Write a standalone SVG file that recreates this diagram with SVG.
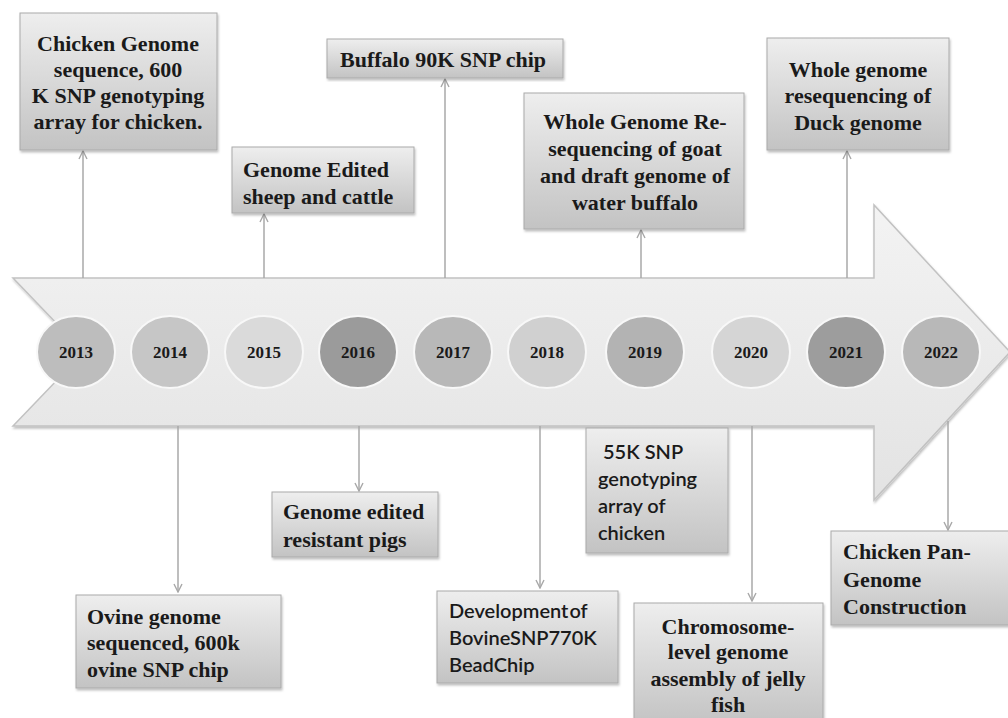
<svg xmlns="http://www.w3.org/2000/svg" width="1008" height="718" viewBox="0 0 1008 718">
<defs>
<linearGradient id="boxg" x1="0" y1="0" x2="0" y2="1">
<stop offset="0" stop-color="#eeeeee"/>
<stop offset="1" stop-color="#c3c3c3"/>
</linearGradient>
<linearGradient id="arrg" x1="0" y1="0" x2="0" y2="1">
<stop offset="0" stop-color="#f3f3f3"/>
<stop offset="1" stop-color="#e3e3e3"/>
</linearGradient>
<filter id="sh" x="-5%" y="-5%" width="112%" height="115%">
<feDropShadow dx="1" dy="2" stdDeviation="1.2" flood-color="#000" flood-opacity="0.25"/>
</filter>
<marker id="ah" viewBox="0 0 10 10" refX="9" refY="5" markerWidth="10" markerHeight="10" markerUnits="userSpaceOnUse" orient="auto">
<path d="M1,1 L9,5 L1,9" fill="none" stroke="#a8a8a8" stroke-width="1.4"/>
</marker>
<style>
.box{fill:url(#boxg);stroke:#aaaaaa;stroke-width:1;filter:url(#sh)}
.t{font-family:"Liberation Serif","Times New Roman",serif;font-weight:bold;font-size:22px;fill:#1a1a1a}
.s{font-family:Lato,"Open Sans",sans-serif;font-weight:600;font-size:20px;fill:#1a1a1a}
.c{text-anchor:middle}
.yr{font-family:"Liberation Serif","Times New Roman",serif;font-weight:bold;font-size:17px;fill:#1a1a1a;text-anchor:middle}
.yc{stroke:#f8f8f8;stroke-width:2}
.ln{stroke:#a8a8a8;stroke-width:1.5;fill:none;marker-end:url(#ah)}
</style>
</defs>
<rect width="1008" height="718" fill="#ffffff"/>

<g id="timeline-arrow">
<path d="M13,278 L874,278 L874,205 L1010,352 L874,500 L874,426 L13,426 L84,352 Z" fill="url(#arrg)" stroke="#c2c2c2" stroke-width="1.5" filter="url(#sh)"/>
</g>

<g id="connectors">
<line class="ln" x1="83" y1="278" x2="83" y2="151"/>
<line class="ln" x1="264" y1="278" x2="264" y2="214"/>
<line class="ln" x1="445" y1="278" x2="445" y2="79"/>
<line class="ln" x1="641" y1="278" x2="641" y2="230"/>
<line class="ln" x1="847" y1="278" x2="847" y2="151"/>
<line class="ln" x1="178" y1="426" x2="178" y2="592"/>
<line class="ln" x1="359" y1="426" x2="359" y2="491"/>
<line class="ln" x1="540" y1="426" x2="540" y2="588"/>
<line class="ln" x1="752" y1="426" x2="752" y2="601"/>
<line class="ln" x1="948" y1="421" x2="948" y2="530"/>
</g>

<g id="y2013"><ellipse class="yc" cx="76" cy="352" rx="39" ry="36" fill="#bdbdbd"/><text class="yr" x="76" y="358">2013</text></g>
<g id="y2014"><ellipse class="yc" cx="170" cy="352" rx="39" ry="36" fill="#c6c6c6"/><text class="yr" x="170" y="358">2014</text></g>
<g id="y2015"><ellipse class="yc" cx="264" cy="352" rx="39" ry="36" fill="#dadada"/><text class="yr" x="264" y="358">2015</text></g>
<g id="y2016"><ellipse class="yc" cx="358" cy="352" rx="39" ry="36" fill="#9b9b9b"/><text class="yr" x="358" y="358">2016</text></g>
<g id="y2017"><ellipse class="yc" cx="453" cy="352" rx="39" ry="36" fill="#b8b8b8"/><text class="yr" x="453" y="358">2017</text></g>
<g id="y2018"><ellipse class="yc" cx="547" cy="352" rx="39" ry="36" fill="#d0d0d0"/><text class="yr" x="547" y="358">2018</text></g>
<g id="y2019"><ellipse class="yc" cx="645" cy="352" rx="39" ry="36" fill="#b3b3b3"/><text class="yr" x="645" y="358">2019</text></g>
<g id="y2020"><ellipse class="yc" cx="751" cy="352" rx="39" ry="36" fill="#d5d5d5"/><text class="yr" x="751" y="358">2020</text></g>
<g id="y2021"><ellipse class="yc" cx="846" cy="352" rx="39" ry="36" fill="#9d9d9d"/><text class="yr" x="846" y="358">2021</text></g>
<g id="y2022"><ellipse class="yc" cx="941" cy="352" rx="39" ry="36" fill="#b8b8b8"/><text class="yr" x="941" y="358">2022</text></g>

<g id="n-chicken-genome">
<rect class="box" x="20" y="13" width="197" height="137"/>
<text class="t c" x="118" y="51">Chicken Genome</text>
<text class="t c" x="118" y="77">sequence, 600</text>
<text class="t c" x="118" y="103">K SNP genotyping</text>
<text class="t c" x="118" y="129">array for chicken.</text>
</g>

<g id="n-genome-edited">
<rect class="box" x="232" y="147" width="182" height="66"/>
<text class="t" x="243" y="177">Genome Edited</text>
<text class="t" x="243" y="204">sheep and cattle</text>
</g>

<g id="n-buffalo">
<rect class="box" x="327" y="39" width="236" height="39"/>
<text class="t c" x="443" y="67">Buffalo 90K SNP chip</text>
</g>

<g id="n-goat">
<rect class="box" x="524" y="93" width="220" height="136"/>
<text class="t c" x="635" y="129">Whole Genome Re-</text>
<text class="t c" x="635" y="156">sequencing of goat</text>
<text class="t c" x="635" y="183">and draft genome of</text>
<text class="t c" x="635" y="210">water buffalo</text>
</g>

<g id="n-duck">
<rect class="box" x="767" y="38" width="182" height="112"/>
<text class="t c" x="858" y="77">Whole genome</text>
<text class="t c" x="858" y="103">resequencing of</text>
<text class="t c" x="858" y="130">Duck genome</text>
</g>

<g id="n-ovine">
<rect class="box" x="76" y="595" width="205" height="93"/>
<text class="t" x="87" y="624">Ovine genome</text>
<text class="t" x="87" y="650">sequenced, 600k</text>
<text class="t" x="87" y="677">ovine SNP chip</text>
</g>

<g id="n-pigs">
<rect class="box" x="272" y="492" width="166" height="65"/>
<text class="t" x="283" y="519">Genome edited</text>
<text class="t" x="283" y="547">resistant pigs</text>
</g>

<g id="n-55k">
<rect class="box" x="586" y="428" width="142" height="125"/>
<text class="s" x="603" y="459">55K SNP</text>
<text class="s" x="598" y="486">genotyping</text>
<text class="s" x="598" y="513">array of</text>
<text class="s" x="598" y="540">chicken</text>
</g>

<g id="n-bovine">
<rect class="box" x="437" y="591" width="181" height="92"/>
<text class="s" x="449" y="618" word-spacing="-4">Development of</text>
<text class="s" x="449" y="645">BovineSNP770K</text>
<text class="s" x="449" y="672">BeadChip</text>
</g>

<g id="n-jellyfish">
<rect class="box" x="634" y="603" width="189" height="122"/>
<text class="t c" x="728" y="634">Chromosome-</text>
<text class="t c" x="728" y="659">level genome</text>
<text class="t c" x="728" y="686">assembly of jelly</text>
<text class="t c" x="728" y="712">fish</text>
</g>

<g id="n-pangenome">
<rect class="box" x="831" y="531" width="185" height="94"/>
<text class="t" x="843" y="559">Chicken Pan-</text>
<text class="t" x="843" y="587">Genome</text>
<text class="t" x="843" y="614">Construction</text>
</g>
</svg>
